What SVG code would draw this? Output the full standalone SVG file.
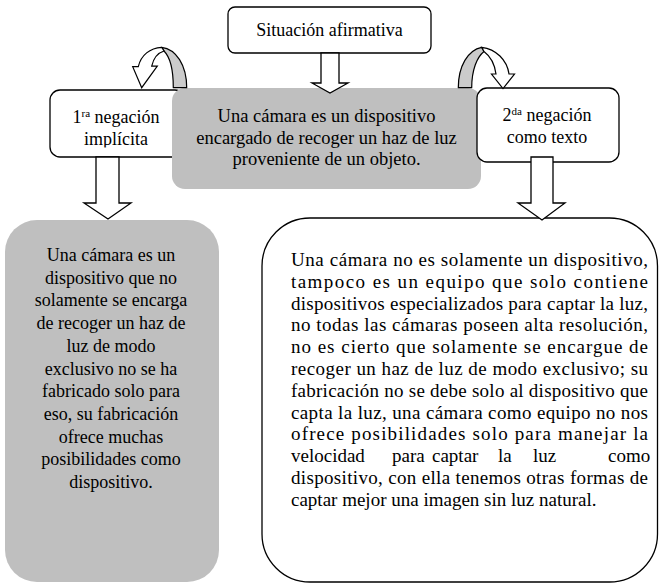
<svg xmlns="http://www.w3.org/2000/svg" width="659" height="585" viewBox="0 0 659 585">
<defs>
<style>
.box{fill:#fff;stroke:#000;stroke-width:1.3}
.gray{fill:#bfbfbf}
.arrow{fill:#fff;stroke:#000;stroke-width:1.3;stroke-linejoin:miter}
.leg{fill:#cbcbcb;stroke:#000;stroke-width:1.2;stroke-linejoin:round}
.carrow{fill:#fff;stroke:#000;stroke-width:1.2;stroke-linejoin:miter}
text{font-family:"Liberation Serif","Times New Roman",serif;font-size:18px;fill:#000}
.c{text-anchor:middle}
.r{font-size:19px}
.m{font-size:18.5px}
</style>
<clipPath id="clipImpl"><rect x="50" y="90" width="135" height="57.5"/></clipPath>
</defs>
<rect width="659" height="585" fill="#fff"/>

<g id="node-top">
<rect class="box" x="228" y="7" width="203" height="46" rx="7"/>
<text class="c" x="329.5" y="36">Situación afirmativa</text>
</g>

<g id="node-neg1">
<rect class="box" x="50" y="90" width="135" height="67" rx="10"/>
<g clip-path="url(#clipImpl)">
<text class="c" x="116" y="123">1<tspan font-size="11" dy="-6">ra</tspan><tspan dy="6"> negación</tspan></text>
<text class="c" x="116" y="145">implícita</text>
</g>
</g>

<g id="node-center">
<rect class="gray" x="172" y="88" width="309" height="101" rx="13"/>
<text class="c m" x="326.5" y="122">Una cámara es un dispositivo</text>
<text class="c m" x="326.5" y="144">encargado de recoger un haz de luz</text>
<text class="c m" x="326.5" y="165">proveniente de un objeto.</text>
</g>

<g id="node-neg2">
<rect class="box" x="477" y="88" width="142" height="74" rx="10"/>
<text class="c" x="547" y="121">2<tspan font-size="11" dy="-6">da</tspan><tspan dy="6"> negación</tspan></text>
<text class="c" x="547" y="143">como texto</text>
</g>

<g id="node-left-big">
<rect class="gray" x="5" y="220" width="214" height="362" rx="32"/>
<text class="c" x="111" y="261">Una cámara es un</text>
<text class="c" x="111" y="283.7">dispositivo que no</text>
<text class="c" x="111" y="306.4">solamente se encarga</text>
<text class="c" x="111" y="329.1">de recoger un haz de</text>
<text class="c" x="111" y="351.8">luz de modo</text>
<text class="c" x="111" y="374.5">exclusivo no se ha</text>
<text class="c" x="111" y="397.2">fabricado solo para</text>
<text class="c" x="111" y="419.9">eso, su fabricación</text>
<text class="c" x="111" y="442.6">ofrece muchas</text>
<text class="c" x="111" y="465.3">posibilidades como</text>
<text class="c" x="111" y="488">dispositivo.</text>
</g>

<g id="node-right-big">
<rect class="box" x="262" y="218" width="395.5" height="364" rx="48"/>
<text class="r" x="291" y="266" textLength="357" lengthAdjust="spacing">Una cámara no es solamente un dispositivo,</text>
<text class="r" x="291" y="287.8" textLength="357" lengthAdjust="spacing">tampoco es un equipo que solo contiene</text>
<text class="r" x="291" y="309.6" textLength="357" lengthAdjust="spacing">dispositivos especializados para captar la luz,</text>
<text class="r" x="291" y="331.4" textLength="357" lengthAdjust="spacing">no todas las cámaras poseen alta resolución,</text>
<text class="r" x="291" y="353.2" textLength="357" lengthAdjust="spacing">no es cierto que solamente se encargue de</text>
<text class="r" x="291" y="375" textLength="357" lengthAdjust="spacing">recoger un haz de luz de modo exclusivo; su</text>
<text class="r" x="291" y="396.8" textLength="357" lengthAdjust="spacing">fabricación no se debe solo al dispositivo que</text>
<text class="r" x="291" y="418.6" textLength="357" lengthAdjust="spacing">capta la luz, una cámara como equipo no nos</text>
<text class="r" x="291" y="440.4" textLength="357" lengthAdjust="spacing">ofrece posibilidades solo para manejar la</text>
<text class="r" y="462.2"><tspan x="291">velocidad</tspan><tspan x="392">para</tspan><tspan x="432">captar</tspan><tspan x="498">la</tspan><tspan x="533">luz</tspan><tspan x="608">como</tspan></text>
<text class="r" x="291" y="484" textLength="357" lengthAdjust="spacing">dispositivo, con ella tenemos otras formas de</text>
<text class="r" x="291" y="505.8">captar mejor una imagen sin luz natural.</text>
</g>

<g id="connectors">
<path class="arrow" d="M321,53 L339,53 L339,83 L348,83 L330,93 L312,83 L321,83 Z"/>
<path class="arrow" d="M96,157 L119,157 L119,203 L131,203 L108,219 L84,203 L96,203 Z"/>
<path class="arrow" d="M531,157 L553,157 L553,203 L565,203 L542,220 L518,203 L531,203 Z"/>
<path class="leg" d="M164,51 C170,57 173.3,70 173.3,87.7 L186.7,87.7 C186.7,65 176,49 161.7,47.3 Z"/>
<path class="carrow" d="M161.7,47.3 C150,48 141,55 138.3,66.7 L132.7,66.7 L141.7,87.7 L157.3,66.2 L151.7,66.2 C153.5,58 157.5,53 164,51 Z"/>
<path class="leg" d="M484,51.5 C477,57 471.7,70 471.7,87.7 L458.3,87.7 C458.3,66 468,50 481.7,47.3 Z"/>
<path class="carrow" d="M481.7,47.3 C496,49 507,60 509,74 L514.5,74 L503,88.5 L491.5,74 L496,74 C494.5,63 490,56 484,51.5 Z"/>
</g>
</svg>
